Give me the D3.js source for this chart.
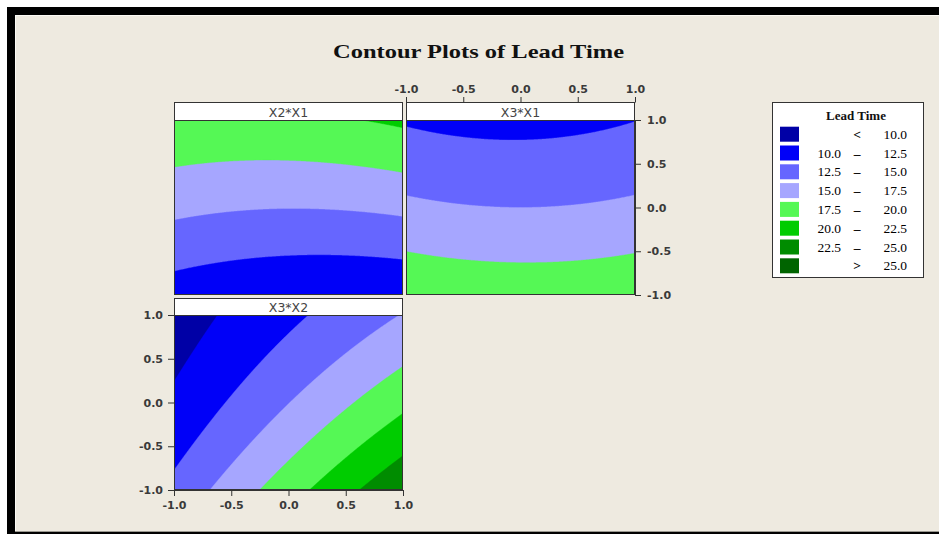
<!DOCTYPE html>
<html>
<head>
<meta charset="utf-8">
<script src="https://cdn.jsdelivr.net/npm/d3@7"></script>
<style>
  html, body { margin: 0; padding: 0; background: #ffffff; }
  svg { display: block; }
</style>
</head>
<body>
<svg id="chart" width="939" height="535"></svg>
<script>
// ---------------- data ----------------
const chartTitle = "Contour Plots of Lead Time";
const legendTitle = "Lead Time";
const panelNames = ["X2*X1", "X3*X1", "X3*X2"];
// Fitted response-surface coefficients for each panel:
// [b0, bx, by, bxx, byy, bxy]  with x = horizontal factor, y = vertical factor
const coefX2X1 = [15.05, -0.04, 4.6, 0.5, -0.1, 0.42];
const coefX3X1 = [15.0, 0.0, -3.64, 0.5, 0.515, 0.08];
const coefX3X2 = [14.95, 4.45, -3.5, 0.0, 0.5, -1.3];
const levels = [10, 12.5, 15, 17.5, 20, 22.5, 25];
const bandColors = ["#0000a6", "#0000f8", "#6666ff", "#a6a6ff", "#55f855", "#00cc00", "#008c00", "#006400"];
const legendLow = ["", "10.0", "12.5", "15.0", "17.5", "20.0", "22.5", ""];
const legendOp = ["<", "\u2013", "\u2013", "\u2013", "\u2013", "\u2013", "\u2013", ">"];
const legendHigh = ["10.0", "12.5", "15.0", "17.5", "20.0", "22.5", "25.0", "25.0"];
const tickValues = [-1, -0.5, 0, 0.5, 1];
const tickLabels = ["-1.0", "-0.5", "0.0", "0.5", "1.0"];

// ---------------- layout ----------------
const svg = d3.select("#chart");
const bg = "#eeeae0";
const tickFont = "DejaVu Sans, Verdana, sans-serif";
const serif = "Liberation Serif, Times New Roman, serif";

// outer frame
svg.append("rect").attr("x", 7).attr("y", 7).attr("width", 932).attr("height", 527).attr("fill", "#000");
svg.append("rect").attr("x", 15).attr("y", 15).attr("width", 924).attr("height", 516).attr("fill", bg);
svg.append("line").attr("x1", 15).attr("x2", 939).attr("y1", 15.5).attr("y2", 15.5).attr("stroke", "#fbfaf5").attr("stroke-width", 1);
svg.append("line").attr("x1", 15.5).attr("x2", 15.5).attr("y1", 15).attr("y2", 531).attr("stroke", "#fbfaf5").attr("stroke-width", 1);
svg.append("rect").attr("x", 15).attr("y", 531).attr("width", 924).attr("height", 1).attr("fill", "#9a9890");

// title
svg.append("text")
  .attr("x", 333).attr("y", 58)
  .attr("textLength", 291).attr("lengthAdjust", "spacingAndGlyphs")
  .attr("font-family", serif).attr("font-weight", "bold").attr("font-size", 19)
  .attr("fill", "#111").text(chartTitle);

const panels = [
  { name: panelNames[0], coef: coefX2X1, x0: 174, x1: 403, hy: 102, y0: 120, y1: 295 },
  { name: panelNames[1], coef: coefX3X1, x0: 406, x1: 635, hy: 102, y0: 120, y1: 295 },
  { name: panelNames[2], coef: coefX3X2, x0: 174, x1: 403, hy: 298, y0: 315, y1: 490 }
];

const color = d3.scaleThreshold().domain(levels).range(bandColors);

panels.forEach((p, k) => {
  const xs = d3.scaleLinear().domain([-1, 1]).range([p.x0, p.x1]);
  const ys = d3.scaleLinear().domain([-1, 1]).range([p.y1, p.y0]);
  const nx = Math.round(p.x1 - p.x0), ny = Math.round(p.y1 - p.y0);
  const c = p.coef;
  const values = new Array(nx * ny);
  for (let j = 0; j < ny; j++) {
    const y = ys.invert(p.y0 + j + 0.5);
    for (let i = 0; i < nx; i++) {
      const x = xs.invert(p.x0 + i + 0.5);
      values[j * nx + i] = c[0] + c[1] * x + c[2] * y + c[3] * x * x + c[4] * y * y + c[5] * x * y;
    }
  }
  const contours = d3.contours().size([nx, ny]).thresholds(levels)(values);
  const clipId = "clip" + k;
  svg.append("clipPath").attr("id", clipId)
    .append("rect").attr("x", p.x0).attr("y", p.y0).attr("width", nx).attr("height", ny);
  const g = svg.append("g").attr("clip-path", `url(#${clipId})`);
  g.append("rect").attr("x", p.x0).attr("y", p.y0).attr("width", nx).attr("height", ny)
    .attr("fill", color(levels[0] - 1));
  const gc = g.append("g").attr("transform", `translate(${p.x0},${p.y0})`);
  gc.selectAll("path").data(contours).join("path")
    .attr("d", d3.geoPath())
    .attr("fill", d => color(d.value))
    .attr("stroke", d => color(d.value))
    .attr("stroke-width", 0.4);
  // plot border
  svg.append("rect").attr("x", p.x0 + 0.5).attr("y", p.y0 + 0.5)
    .attr("width", nx - 1).attr("height", ny - 1)
    .attr("fill", "none").attr("stroke", "#333").attr("stroke-width", 1);
  // strip header
  svg.append("rect").attr("x", p.x0 + 0.5).attr("y", p.hy + 0.5)
    .attr("width", nx - 1).attr("height", p.y0 - p.hy)
    .attr("fill", "#fff").attr("stroke", "#333").attr("stroke-width", 1);
  svg.append("text").attr("x", (p.x0 + p.x1) / 2).attr("y", p.y0 - 3.5)
    .attr("text-anchor", "middle").attr("font-family", tickFont).attr("font-size", 12.5)
    .attr("fill", "#444").text(p.name);
  p.xs = xs; p.ys = ys;
});

function styleAxis(sel) {
  sel.select(".domain").attr("stroke", "#333");
  sel.selectAll(".tick line").attr("stroke", "#333");
  sel.selectAll(".tick text").attr("font-family", tickFont).attr("font-size", 11)
    .attr("font-weight", "bold").attr("fill", "#3a3a3a");
}
const fmt = v => tickLabels[tickValues.indexOf(v)];

// panel 2 top axis + right axis
const p2 = panels[1];
svg.append("g").attr("transform", `translate(0,${p2.hy})`)
  .call(d3.axisTop(p2.xs).tickValues(tickValues).tickFormat(fmt).tickSize(5).tickSizeOuter(0).tickPadding(4))
  .call(styleAxis);
svg.append("g").attr("transform", `translate(${p2.x1},0)`)
  .call(d3.axisRight(p2.ys).tickValues(tickValues).tickFormat(fmt).tickSize(6).tickSizeOuter(0).tickPadding(6))
  .call(styleAxis);

// panel 3 left + bottom axis
const p3 = panels[2];
svg.append("g").attr("transform", `translate(${p3.x0},0)`)
  .call(d3.axisLeft(p3.ys).tickValues(tickValues).tickFormat(fmt).tickSize(6).tickSizeOuter(0).tickPadding(5))
  .call(styleAxis);
svg.append("g").attr("transform", `translate(0,${p3.y1})`)
  .call(d3.axisBottom(p3.xs).tickValues(tickValues).tickFormat(fmt).tickSize(6).tickSizeOuter(0).tickPadding(5))
  .call(styleAxis);

// ---------------- legend ----------------
const lg = svg.append("g");
lg.append("rect").attr("x", 772.5).attr("y", 102.5).attr("width", 151).attr("height", 175)
  .attr("fill", "#fff").attr("stroke", "#333").attr("stroke-width", 1);
lg.append("text").attr("x", 856).attr("y", 120).attr("text-anchor", "middle")
  .attr("font-family", serif).attr("font-weight", "bold").attr("font-size", 13)
  .attr("fill", "#111").text(legendTitle);
const rowY = d3.scaleLinear().domain([0, 7]).range([126.7, 258.3]);
bandColors.forEach((col, i) => {
  const y = rowY(i);
  lg.append("rect").attr("x", 780).attr("y", y).attr("width", 19).attr("height", 15).attr("fill", col);
  const ty = y + 12;
  if (legendLow[i]) lg.append("text").attr("x", 841).attr("y", ty).attr("text-anchor", "end")
    .attr("font-family", serif).attr("font-size", 13.5).attr("fill", "#000").text(legendLow[i]);
  lg.append("text").attr("x", 857).attr("y", ty).attr("text-anchor", "middle")
    .attr("font-family", serif).attr("font-size", 13.5).attr("font-weight", "bold").attr("fill", "#000").text(legendOp[i]);
  lg.append("text").attr("x", 907).attr("y", ty).attr("text-anchor", "end")
    .attr("font-family", serif).attr("font-size", 13.5).attr("fill", "#000").text(legendHigh[i]);
});
</script>
</body>
</html>
